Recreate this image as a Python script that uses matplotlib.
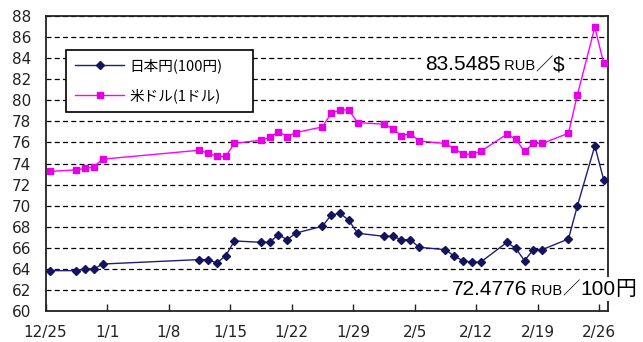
import datetime as dt

import matplotlib
matplotlib.use("Agg")
import matplotlib.pyplot as plt
from matplotlib.patches import Rectangle
from matplotlib.transforms import IdentityTransform

# ---- data: CBR official rates (RUB) ----
dates = ["12/25", "12/28", "12/29", "12/30", "12/31",
         "1/11", "1/12", "1/13", "1/14", "1/15",
         "1/18", "1/19", "1/20", "1/21", "1/22",
         "1/25", "1/26", "1/27", "1/28", "1/29",
         "2/1", "2/2", "2/3", "2/4", "2/5",
         "2/8", "2/9", "2/10", "2/11", "2/12",
         "2/15", "2/16", "2/17", "2/18", "2/19",
         "2/22", "2/23", "2/25", "2/26"]

jpy_100 = [63.83, 63.83, 63.99, 63.99, 64.46,
           64.88, 64.88, 64.56, 65.25, 66.65,
           66.52, 66.52, 67.24, 66.77, 67.40,
           68.04, 69.11, 69.27, 68.63, 67.38,
           67.09, 67.09, 66.77, 66.77, 66.05,
           65.82, 65.20, 64.78, 64.63, 64.63,
           66.52, 65.95, 64.78, 65.82, 65.82,
           66.84, 69.93, 75.67, 72.4776]

usd_1 = [73.25, 73.40, 73.53, 73.68, 74.41,
         75.26, 74.98, 74.67, 74.67, 75.92,
         76.21, 76.47, 77.03, 76.56, 76.94,
         77.47, 78.77, 79.08, 79.08, 77.89,
         77.73, 77.32, 76.62, 76.84, 76.14,
         75.90, 75.42, 74.88, 74.88, 75.14,
         76.78, 76.31, 75.14, 75.90, 75.90,
         76.87, 80.47, 86.93, 83.5485]

tick_labels = ["12/25", "1/1", "1/8", "1/15", "1/22", "1/29",
               "2/5", "2/12", "2/19", "2/26"]
series_labels = ["日本円(100円)", "米ドル(1ドル)"]
y_ticks = list(range(60, 89, 2))


def to_date(md):
    m, d = (int(v) for v in md.split("/"))
    return dt.datetime(2021 if m == 12 else 2022, m, d)


# each value sits in the middle of its day slot
x = [to_date(s) + dt.timedelta(hours=12) for s in dates]
x_ticks = [to_date(s) for s in tick_labels]

W, H = 643, 342
fig = plt.figure(figsize=(W / 100, H / 100), dpi=100)
ax = fig.add_axes([45.5 / W, 1 - 311 / H, (608 - 45.5) / W, (311 - 16) / H])

ax.plot(x, jpy_100, color="#1e1e7c", lw=1.0, marker="D", ms=4.2,
        mfc="#14145e", mec="#14145e", label=series_labels[0], zorder=3)
ax.plot(x, usd_1, color="#ff00ff", lw=1.0, marker="s", ms=5.0,
        mfc="#e600e6", mec="#e600e6", label=series_labels[1], zorder=3)

ax.set_xlim(to_date("12/25"), to_date("2/27"))
ax.set_ylim(60, 88)
ax.set_xticks(x_ticks)
ax.set_xticklabels(tick_labels)
ax.set_yticks(y_ticks)
ax.set_yticklabels([str(v) for v in y_ticks])

ax.yaxis.grid(True, color="black", lw=0.9, linestyle=(0, (4, 2.6)))
ax.set_axisbelow(True)
for sp in ax.spines.values():
    sp.set_color("#222222")
    sp.set_linewidth(1.3)

ax.tick_params(axis="x", direction="in", length=5, width=1.0, pad=10,
               labelsize=11, colors="#222222")
ax.tick_params(axis="y", length=0, pad=10.5, labelsize=11, colors="#222222")

leg = ax.legend(loc="upper left",
                bbox_to_anchor=(66 / W, 1 - 111 / H, 187 / W, 61 / H),
                bbox_transform=fig.transFigure, borderaxespad=0, mode="expand",
                prop={"family": ["Noto Sans CJK JP", "DejaVu Sans"], "size": 10.5},
                frameon=True, fancybox=False, framealpha=1, edgecolor="black",
                handlelength=3.4, handletextpad=0.35, borderpad=0.6,
                labelspacing=1.0)
leg.get_frame().set_linewidth(1.2)

# ---- value labels with mixed font sizes on a white box ----
LS = ["Liberation Sans", "DejaVu Sans"]
CJK = ["Noto Sans CJK JP", "DejaVu Sans"]
renderer = fig.canvas.get_renderer()


def rich_label(x0, baseline, parts):
    xpos = x0
    boxes = []
    for text, size, fam in parts:
        t = fig.text(xpos, baseline, text, fontsize=size, family=fam,
                     ha="left", va="baseline", transform=IdentityTransform(),
                     color="black", zorder=5)
        bb = t.get_window_extent(renderer)
        boxes.append(bb)
        xpos = bb.x1
    x_lo = min(b.x0 for b in boxes) - 4
    x_hi = max(b.x1 for b in boxes) + 4
    y_lo = min(b.y0 for b in boxes) - 1
    y_hi = max(b.y1 for b in boxes) + 1
    fig.add_artist(Rectangle((x_lo, y_lo), x_hi - x_lo, y_hi - y_lo,
                             facecolor="white", edgecolor="none",
                             transform=IdentityTransform(), zorder=4))


rich_label(425, H - 70, [(f"{usd_1[-1]:.4f}", 15, LS), (" RUB", 10.5, LS),
                         ("／", 12.5, CJK), ("$", 15, LS)])
rich_label(452, H - 295, [(f"{jpy_100[-1]:.4f}", 15, LS), (" RUB", 10.5, LS),
                          ("／", 12.5, CJK), ("100", 15, LS), ("円", 15, CJK)])

fig.savefig("out.png", dpi=100)
